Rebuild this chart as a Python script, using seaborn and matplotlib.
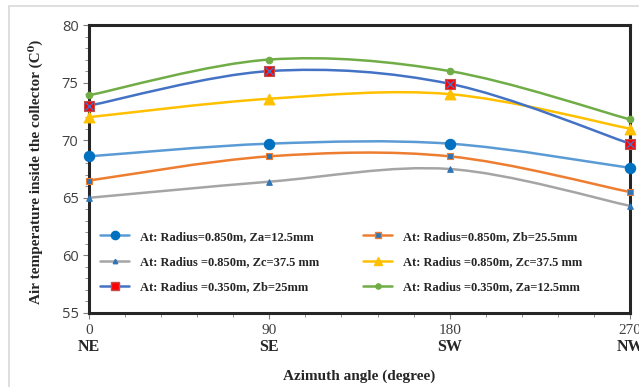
"""
Air temperature inside the collector vs azimuth angle.
"""

import numpy as np
import pandas as pd
import matplotlib.pyplot as plt
import seaborn as sns
from matplotlib.path import Path
from matplotlib.patches import PathPatch, Rectangle
from matplotlib.lines import Line2D
from matplotlib.ticker import MultipleLocator
import matplotlib.transforms as mtransforms

# data
azimuth = [0, 90, 180, 270]
directions = ["NE", "SE", "SW", "NW"]

r850_za = [68.6, 69.7, 69.7, 67.6]
r850_zb = [66.5, 68.6, 68.6, 65.5]
r850_zc_gray = [65.0, 66.4, 67.5, 64.3]
r850_zc = [72.0, 73.6, 74.0, 71.0]
r350_zb = [73.0, 76.0, 74.9, 69.7]
r350_za = [73.9, 77.0, 76.0, 71.8]

labels = [
    "At: Radius=0.850m, Za=12.5mm",
    "At: Radius=0.850m, Zb=25.5mm",
    "At: Radius =0.850m, Zc=37.5 mm",
    "At: Radius =0.850m, Zc=37.5 mm",
    "At: Radius =0.350m, Zb=25mm",
    "At: Radius =0.350m, Za=12.5mm",
]
series = [r850_za, r850_zb, r850_zc_gray, r850_zc, r350_zb, r350_za]

# (line colour, marker, marker size, face, edge)
styles = [
    ("#5B9BD5", "o", 55, "#0070C0", "#0070C0"),
    ("#ED7D31", "s", 22, "#2E75B6", "#ED7D31"),
    ("#A5A5A5", "^", 16, "#2E75B6", "#2E75B6"),
    ("#FFC000", "^", 60, "#FFC000", "#FFC000"),
    ("#4472C4", "s", 55, "#FF0000", "#C0504D"),
    ("#70AD47", "o", 22, "#70AD47", "#70AD47"),
]


def smooth_path(x, y):
    """Excel-style smoothed line: cubic Bezier through every point."""
    pts = np.column_stack([x, y]).astype(float)
    ext = np.vstack([pts[0], pts, pts[-1]])
    verts = [pts[0]]
    codes = [Path.MOVETO]
    for i in range(len(pts) - 1):
        p0, p1, p2, p3 = ext[i], ext[i + 1], ext[i + 2], ext[i + 3]
        c1 = p1 + (p2 - p0) / 6.0
        c2 = p2 - (p3 - p1) / 6.0
        verts += [c1, c2, p2]
        codes += [Path.CURVE4] * 3
    return Path(verts, codes)


sns.set_theme(style="white")
serif = ["Liberation Serif", "DejaVu Serif"]

fig = plt.figure(figsize=(6.39, 3.87), dpi=100)
ax = fig.add_axes([89 / 639, 1 - 313 / 387, (630 - 89) / 639, (313 - 25) / 387])

# chart area border
fig.patches.append(Rectangle((9 / 639, -0.01), 1.0, 1 - 6 / 387 + 0.01,
                             transform=fig.transFigure, fill=False,
                             edgecolor="#D9D9D9", linewidth=1.2))

for vals, (lc, mk, ms, fc, ec) in zip(series, styles):
    ax.add_patch(PathPatch(smooth_path(azimuth, vals), facecolor="none",
                           edgecolor=lc, linewidth=1.8, zorder=2))
    df = pd.DataFrame({"azimuth": azimuth, "temp": vals})
    sns.scatterplot(data=df, x="azimuth", y="temp", marker=mk, s=ms,
                    color=fc, edgecolor=ec, linewidth=0.8, ax=ax,
                    zorder=3, clip_on=False)
    if mk == "s" and ms > 40:
        sns.scatterplot(data=df, x="azimuth", y="temp", marker="x", s=30,
                        color="#4472C4", linewidth=1.0, ax=ax, zorder=4,
                        clip_on=False)

ax.set_xlim(0, 270)
ax.set_ylim(55, 80)
ax.xaxis.set_major_locator(MultipleLocator(90))
ax.xaxis.set_minor_locator(MultipleLocator(18))
ax.yaxis.set_major_locator(MultipleLocator(5))
ax.yaxis.set_minor_locator(MultipleLocator(1))
ax.tick_params(axis="both", which="both", direction="out", color="#808080",
               bottom=True, left=True)
ax.tick_params(which="major", length=4, width=0.8, labelsize=10.5,
               labelcolor="#404040")
ax.tick_params(which="minor", length=3, width=0.6)
ax.tick_params(axis="x", pad=4)
ax.set_xticks(azimuth)
ax.set_xticklabels([str(a) for a in azimuth], fontfamily="Liberation Serif",
                   fontsize=11)
for lbl in ax.get_yticklabels():
    lbl.set_fontfamily("Open Sans")

# compass directions under the degree labels
trans = mtransforms.blended_transform_factory(ax.transData, fig.transFigure)
for a, d in zip(azimuth, directions):
    ax.text(a, 1 - 347 / 387, d, transform=trans, ha="center", va="center",
            fontsize=11.5, fontweight="bold", family=serif, color="#262626")

for sp in ax.spines.values():
    sp.set_color("#262626")
    sp.set_linewidth(2.2)

ax.set_xlabel("")
ax.set_ylabel("")
fig.text(359 / 639, 1 - 376 / 387, "Azimuth angle (degree)", ha="center",
         va="center", fontsize=11, fontweight="bold", family=serif,
         color="#262626")
fig.text(35 / 639, 1 - 172 / 387, "Air temperature inside the collector (C\u2070)",
         ha="center", va="center", rotation=90, fontsize=11,
         fontweight="bold", family=serif, color="#262626")

handles = []
for lc, mk, ms, fc, ec in styles:
    handles.append(Line2D([0], [0], color=lc, linewidth=1.8, marker=mk,
                          markersize=np.sqrt(ms) * 0.8, markerfacecolor=fc,
                          markeredgecolor=ec))
order = [0, 2, 4, 1, 3, 5]
ax.legend([handles[i] for i in order], [labels[i] for i in order], ncol=2,
          loc="lower left", bbox_to_anchor=(0.0, 0.03), frameon=False,
          prop={"family": serif, "weight": "bold", "size": 9},
          handlelength=2.3, columnspacing=3.5, labelspacing=1.05,
          handletextpad=0.9)

fig.savefig("out.png", dpi=100)
